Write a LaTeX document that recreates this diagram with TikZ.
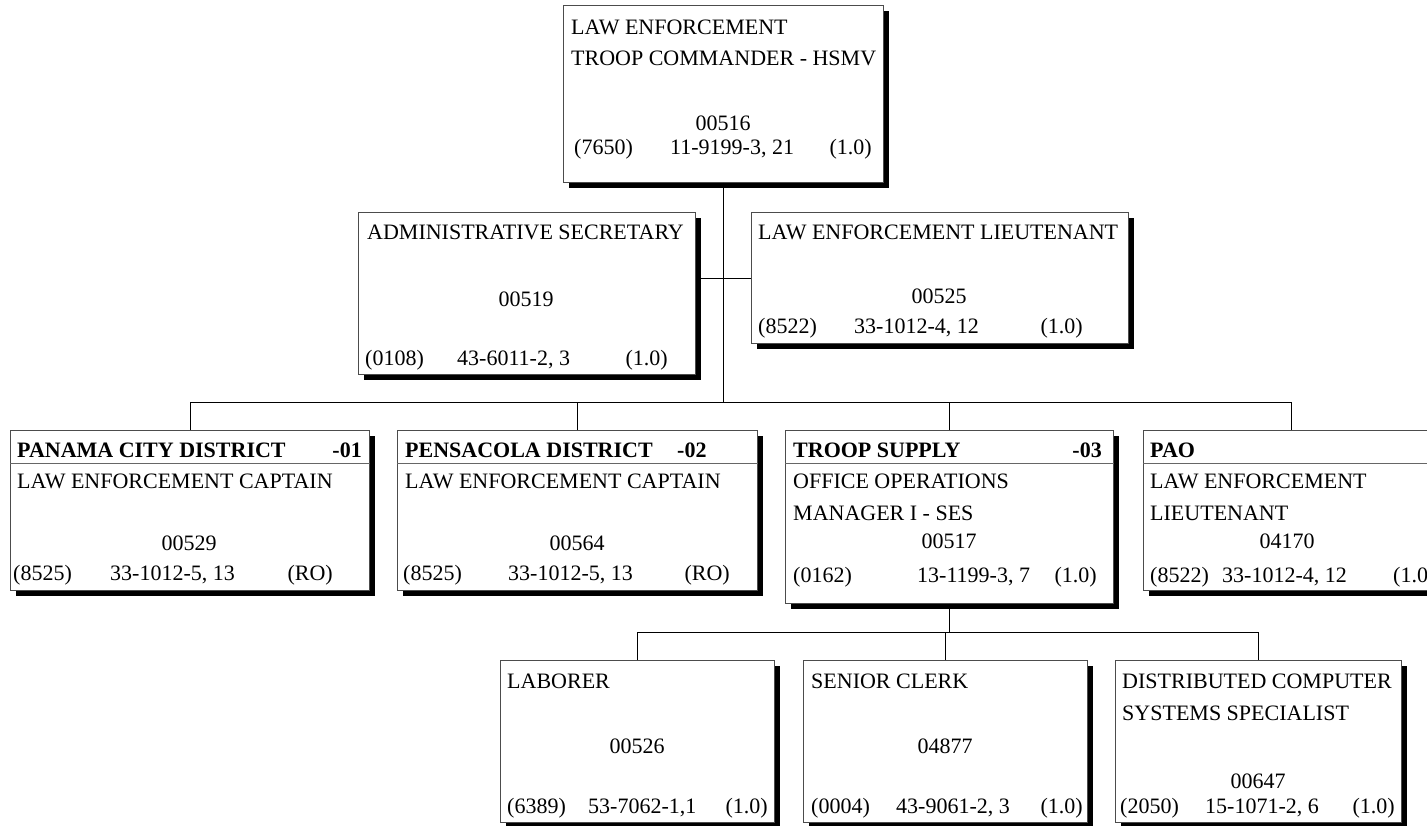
\documentclass[tikz,border=0pt]{standalone}
\usepackage{fontspec}
\setmainfont{Liberation Serif}
\usetikzlibrary{shadows,calc}
\newcommand{\orgfont}{\fontsize{22}{26}\selectfont}

\tikzset{
  posbox/.style={draw=black!70, line width=0.9pt, fill=white, inner sep=0pt,
    anchor=north west,
    drop shadow={shadow xshift=6pt, shadow yshift=-6pt, fill=black, opacity=1}},
  lbl/.style={inner sep=0pt, font=\orgfont, anchor=base west},
  lblc/.style={lbl, anchor=base},
  lblr/.style={lbl, anchor=base east},
  hdr/.style={lbl, font=\orgfont\bfseries},
  hdrr/.style={hdr, anchor=base east},
  wire/.style={draw=black, line width=0.9pt},
  divider/.style={draw=black!60, line width=0.9pt}
}

\begin{document}
\begin{tikzpicture}[x=1pt, y=-1pt]
\useasboundingbox (0,0) rectangle (1427,825);

% position boxes
\node[posbox, minimum width=320pt, minimum height=177pt] (cmd) at (563,5) {};
\node[posbox, minimum width=337pt, minimum height=162pt] (sec) at (358,212) {};
\node[posbox, minimum width=377pt, minimum height=131pt] (lt)  at (751,212) {};
\node[posbox, minimum width=359pt, minimum height=160pt] (pcd) at (10,430) {};
\node[posbox, minimum width=360pt, minimum height=160pt] (pen) at (397,430) {};
\node[posbox, minimum width=328pt, minimum height=173pt] (sup) at (785,430) {};
\node[posbox, minimum width=296pt, minimum height=160pt] (pao) at (1143,430) {};
\node[posbox, minimum width=274pt, minimum height=162pt] (lab) at (500,660) {};
\node[posbox, minimum width=284pt, minimum height=162pt] (clk) at (803,660) {};
\node[posbox, minimum width=286pt, minimum height=162pt] (dcs) at (1115,660) {};

% header rules of the district boxes
\foreach \b in {pcd,pen,sup,pao}
  \draw[divider] ($(\b.north west)+(0,33)$) -- ($(\b.north east)+(0,33)$);

% connectors
\coordinate (busA) at (0,402);
\coordinate (busB) at (0,632);
\draw[wire] (cmd.south) -- (cmd.south |- busA);
\draw[wire] (lt.west) -- (lt.west -| sec.east);
\draw[wire] (pcd.north) |- (busA -| pao.north) -- (pao.north);
\draw[wire] (pen.north) -- (pen.north |- busA);
\draw[wire] (sup.north) -- (sup.north |- busA);
\draw[wire] (sup.south) -- (sup.south |- busB);
\draw[wire] (lab.north) |- (busB -| dcs.north) -- (dcs.north);
\draw[wire] (clk.north) -- (clk.north |- busB);

% troop commander
\node[lbl]  (cmd-t1) at (571,34) {LAW ENFORCEMENT};
\node[lbl]  (cmd-t2) at (571,65) {TROOP COMMANDER - HSMV};
\node[lblc] (cmd-n)  at (723,130) {00516};
\node[lbl]  (cmd-a)  at (574,154) {(7650)};
\node[lbl]  (cmd-b)  at (670,154) {11-9199-3, 21};
\node[lblr] (cmd-c)  at (872,154) {(1.0)};

% administrative secretary
\node[lbl]  (sec-t1) at (367,239) {ADMINISTRATIVE SECRETARY};
\node[lblc] (sec-n)  at (526,306) {00519};
\node[lbl]  (sec-a)  at (365,365) {(0108)};
\node[lbl]  (sec-b)  at (457,365) {43-6011-2, 3};
\node[lblr] (sec-c)  at (668,365) {(1.0)};

% lieutenant
\node[lbl]  (lt-t1) at (758,239) {LAW ENFORCEMENT LIEUTENANT};
\node[lblc] (lt-n)  at (939,303) {00525};
\node[lbl]  (lt-a)  at (758,333) {(8522)};
\node[lbl]  (lt-b)  at (854,333) {33-1012-4, 12};
\node[lblr] (lt-c)  at (1083,333) {(1.0)};

% Panama City district
\node[hdr]  (pcd-h)  at (17,457) {PANAMA CITY DISTRICT};
\node[hdrr] (pcd-hn) at (362,457) {-01};
\node[lbl]  (pcd-t1) at (17,488) {LAW ENFORCEMENT CAPTAIN};
\node[lblc] (pcd-n)  at (189,550) {00529};
\node[lbl]  (pcd-a)  at (13,580) {(8525)};
\node[lbl]  (pcd-b)  at (110,580) {33-1012-5, 13};
\node[lblr] (pcd-c)  at (333,580) {(RO)};

% Pensacola district
\node[hdr]  (pen-h)  at (405,457) {PENSACOLA DISTRICT};
\node[hdr]  (pen-hn) at (677,457) {-02};
\node[lbl]  (pen-t1) at (405,488) {LAW ENFORCEMENT CAPTAIN};
\node[lblc] (pen-n)  at (577,550) {00564};
\node[lbl]  (pen-a)  at (403,580) {(8525)};
\node[lbl]  (pen-b)  at (508,580) {33-1012-5, 13};
\node[lblr] (pen-c)  at (730,580) {(RO)};

% troop supply
\node[hdr]  (sup-h)  at (793,457) {TROOP SUPPLY};
\node[hdrr] (sup-hn) at (1102,457) {-03};
\node[lbl]  (sup-t1) at (793,488) {OFFICE OPERATIONS};
\node[lbl]  (sup-t2) at (793,520) {MANAGER I - SES};
\node[lblc] (sup-n)  at (949,548) {00517};
\node[lbl]  (sup-a)  at (793,582) {(0162)};
\node[lbl]  (sup-b)  at (917,582) {13-1199-3, 7};
\node[lblr] (sup-c)  at (1097,582) {(1.0)};

% PAO
\node[hdr]  (pao-h)  at (1150,457) {PAO};
\node[lbl]  (pao-t1) at (1150,488) {LAW ENFORCEMENT};
\node[lbl]  (pao-t2) at (1150,520) {LIEUTENANT};
\node[lblc] (pao-n)  at (1287,548) {04170};
\node[lbl]  (pao-a)  at (1150,582) {(8522)};
\node[lbl]  (pao-b)  at (1222,582) {33-1012-4, 12};
\node[lbl]  (pao-c)  at (1393,582) {(1.0)};

% laborer
\node[lbl]  (lab-t1) at (507,688) {LABORER};
\node[lblc] (lab-n)  at (637,753) {00526};
\node[lbl]  (lab-a)  at (507,813) {(6389)};
\node[lbl]  (lab-b)  at (588,813) {53-7062-1,1};
\node[lblr] (lab-c)  at (768,813) {(1.0)};

% senior clerk
\node[lbl]  (clk-t1) at (811,688) {SENIOR CLERK};
\node[lblc] (clk-n)  at (945,753) {04877};
\node[lbl]  (clk-a)  at (811,813) {(0004)};
\node[lbl]  (clk-b)  at (896,813) {43-9061-2, 3};
\node[lblr] (clk-c)  at (1083,813) {(1.0)};

% computer systems specialist
\node[lbl]  (dcs-t1) at (1122,688) {DISTRIBUTED COMPUTER};
\node[lbl]  (dcs-t2) at (1122,720) {SYSTEMS SPECIALIST};
\node[lblc] (dcs-n)  at (1258,788) {00647};
\node[lbl]  (dcs-a)  at (1120,813) {(2050)};
\node[lbl]  (dcs-b)  at (1205,813) {15-1071-2, 6};
\node[lblr] (dcs-c)  at (1395,813) {(1.0)};
\end{tikzpicture}
\end{document}
